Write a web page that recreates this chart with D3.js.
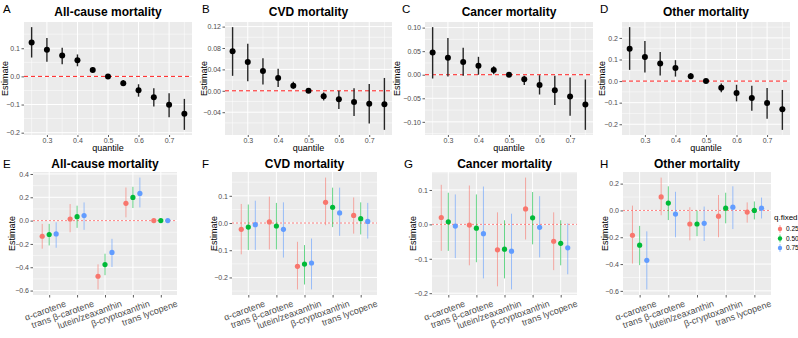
<!DOCTYPE html>
<html>
<head>
<meta charset="utf-8">
<script src="https://cdn.jsdelivr.net/npm/d3@7"></script>
<style>
body { margin: 0; background: #fff; }
svg { font-family: "Liberation Sans", Arial, sans-serif; }
</style>
</head>
<body>
<svg id="fig" width="798" height="338"></svg>
<script>
// quantile panels (top row)
const quantiles = [0.25, 0.30, 0.35, 0.40, 0.45, 0.50, 0.55, 0.60, 0.65, 0.70, 0.75];
const quantTicks = [0.3, 0.4, 0.5, 0.6, 0.7];

const allCauseEst = [0.120, 0.095, 0.074, 0.057, 0.023, 0.0, -0.024, -0.049, -0.074, -0.101, -0.133];
const allCauseLo  = [0.067, 0.052, 0.043, 0.036, 0.016, 0.0, -0.034, -0.072, -0.107, -0.145, -0.190];
const allCauseHi  = [0.175, 0.136, 0.102, 0.078, 0.032, 0.0, -0.013, -0.028, -0.042, -0.060, -0.080];

const cvdEst = [0.074, 0.054, 0.037, 0.024, 0.0094, 0.0, -0.010, -0.016, -0.021, -0.024, -0.025];
const cvdLo  = [0.028, 0.018, 0.012, 0.007, 0.004, 0.0, -0.018, -0.034, -0.047, -0.061, -0.073];
const cvdHi  = [0.119, 0.088, 0.061, 0.041, 0.017, 0.0, -0.003, 0.000, 0.005, 0.0125, 0.024];

const cancerEst = [0.047, 0.036, 0.027, 0.019, 0.010, 0.0, -0.0096, -0.022, -0.033, -0.046, -0.063];
const cancerLo  = [-0.008, -0.004, -0.002, 0.000, 0.001, 0.0, -0.022, -0.042, -0.064, -0.087, -0.117];
const cancerHi  = [0.101, 0.078, 0.057, 0.038, 0.018, 0.0, -0.002, -0.001, -0.002, -0.006, -0.010];

const otherEst = [0.150, 0.112, 0.081, 0.061, 0.023, 0.0, -0.031, -0.055, -0.078, -0.101, -0.131];
const otherLo  = [0.052, 0.040, 0.026, 0.021, 0.011, 0.0, -0.052, -0.094, -0.137, -0.175, -0.226];
const otherHi  = [0.250, 0.186, 0.135, 0.097, 0.037, 0.0, -0.011, -0.017, -0.022, -0.032, -0.041];

// nutrient panels (bottom row), rows = q.fixed 0.25 / 0.50 / 0.75
const nutrients = ['\u03b1-carotene', 'trans \u03b2-carotene', 'lutein/zeaxanthin', '\u03b2-cryptoxanthin', 'trans lycopene'];
const qFixed = ['0.25', '0.50', '0.75'];
const qColors = ['#F8766D', '#00BA38', '#619CFF'];

const nAllEst = [[-0.134, 0.014, -0.477, 0.148, 0.0], [-0.119, 0.034, -0.377, 0.199, 0.0], [-0.114, 0.043, -0.273, 0.233, 0.0]];
const nAllLo  = [[-0.241, -0.100, -0.590, 0.028, -0.004], [-0.213, -0.062, -0.468, 0.108, -0.003], [-0.233, -0.079, -0.398, 0.113, -0.003]];
const nAllHi  = [[-0.028, 0.142, -0.375, 0.284, 0.004], [-0.028, 0.128, -0.284, 0.290, 0.003], [-0.014, 0.156, -0.156, 0.369, 0.003]];

const nCvdEst = [[-0.023, 0.004, -0.159, 0.076, 0.028], [-0.015, -0.011, -0.151, 0.058, 0.016], [-0.006, -0.023, -0.147, 0.037, 0.006]];
const nCvdLo  = [[-0.115, -0.097, -0.244, -0.008, -0.039], [-0.099, -0.097, -0.226, -0.015, -0.042], [-0.099, -0.127, -0.244, -0.047, -0.057]];
const nCvdHi  = [[0.070, 0.097, -0.069, 0.167, 0.094], [0.068, 0.074, -0.081, 0.130, 0.076], [0.082, 0.076, -0.057, 0.130, 0.074]];

const nCanEst = [[0.020, -0.002, -0.074, 0.045, -0.049], [0.0074, -0.011, -0.072, 0.019, -0.055], [-0.005, -0.027, -0.078, -0.0085, -0.068]];
const nCanLo  = [[-0.077, -0.119, -0.180, -0.044, -0.133], [-0.077, -0.110, -0.157, -0.058, -0.119], [-0.098, -0.157, -0.189, -0.096, -0.145]];
const nCanHi  = [[0.115, 0.113, 0.035, 0.136, 0.035], [0.092, 0.087, 0.012, 0.094, 0.012], [0.087, 0.110, 0.031, 0.082, 0.003]];

const nOthEst = [[-0.185, 0.101, -0.101, -0.043, -0.012], [-0.259, 0.055, -0.101, 0.017, 0.0], [-0.372, -0.027, -0.096, 0.024, 0.017]];
const nOthLo  = [[-0.396, -0.036, -0.223, -0.200, -0.091], [-0.408, -0.072, -0.192, -0.096, -0.067], [-0.589, -0.200, -0.228, -0.139, -0.060]];
const nOthHi  = [[0.036, 0.245, 0.024, 0.115, 0.060], [-0.115, 0.180, 0.000, 0.132, 0.067], [-0.156, 0.139, 0.029, 0.180, 0.096]];

const svg = d3.select('#fig');

const panelBg = '#EBEBEB';
const tickCol = '#4D4D4D';

// y domain like ggplot: data range + 5%
const expand = (lo, hi) => {
  const mn = d3.min(lo.flat()), mx = d3.max(hi.flat());
  const p = (mx - mn) * 0.05;
  return [mn - p, mx + p];
};

// minor breaks halfway between majors, inside domain
const minorOf = (ticks, dom) => {
  const step = ticks[1] - ticks[0];
  const out = [];
  for (let t = ticks[0] - step / 2; t <= dom[1] + 1e-9; t += step) {
    if (t >= dom[0] - 1e-9) out.push(t);
  }
  return out;
};

const styleAxis = (g) => {
  g.select('.domain').remove();
  g.selectAll('line').attr('stroke', '#333').attr('stroke-width', 0.8);
  g.selectAll('text').attr('fill', tickCol).attr('font-size', '7px');
};

const yGrid = (g, y, x0, x1, majors, dom) => {
  g.selectAll(null).data(minorOf(majors, dom)).enter().append('line')
    .attr('x1', x0).attr('x2', x1).attr('y1', d => y(d)).attr('y2', d => y(d))
    .attr('stroke', '#fff').attr('stroke-width', 0.5);
  g.selectAll(null).data(majors).enter().append('line')
    .attr('x1', x0).attr('x2', x1).attr('y1', d => y(d)).attr('y2', d => y(d))
    .attr('stroke', '#fff').attr('stroke-width', 1);
};

const quantPanel = (o) => {
  const top = 22, bottom = 135;
  const g = svg.append('g');
  const x = d3.scaleLinear().domain([0.225, 0.775]).range([o.x0, o.x1]);
  const dom = expand(o.lo, o.hi);
  const y = d3.scaleLinear().domain(dom).range([bottom, top]);

  g.append('rect').attr('x', o.x0).attr('y', top)
    .attr('width', o.x1 - o.x0).attr('height', bottom - top).attr('fill', panelBg);

  yGrid(g, y, o.x0, o.x1, o.yTicks, dom);
  // x minor at 0.25, 0.35 ...
  g.selectAll(null).data(quantiles.filter((d, i) => i % 2 === 0)).enter().append('line')
    .attr('y1', top).attr('y2', bottom).attr('x1', d => x(d)).attr('x2', d => x(d))
    .attr('stroke', '#fff').attr('stroke-width', 0.5);
  g.selectAll(null).data(quantTicks).enter().append('line')
    .attr('y1', top).attr('y2', bottom).attr('x1', d => x(d)).attr('x2', d => x(d))
    .attr('stroke', '#fff').attr('stroke-width', 1);

  g.append('line').attr('x1', o.x0).attr('x2', o.x1).attr('y1', y(0)).attr('y2', y(0))
    .attr('stroke', 'red').attr('stroke-width', 0.9).attr('stroke-dasharray', '4,3');

  g.selectAll(null).data(quantiles).enter().append('line')
    .attr('x1', d => x(d)).attr('x2', d => x(d))
    .attr('y1', (d, i) => y(o.lo[i])).attr('y2', (d, i) => y(o.hi[i]))
    .attr('stroke', '#262626').attr('stroke-width', 1.4);
  g.selectAll(null).data(quantiles).enter().append('circle')
    .attr('cx', d => x(d)).attr('cy', (d, i) => y(o.est[i])).attr('r', 3)
    .attr('fill', '#000');

  g.append('g').attr('transform', `translate(${o.x0},0)`)
    .call(d3.axisLeft(y).tickValues(o.yTicks).tickFormat(o.fmt).tickSize(2.5).tickPadding(1.5))
    .call(styleAxis);
  g.append('g').attr('transform', `translate(0,${bottom})`)
    .call(d3.axisBottom(x).tickValues(quantTicks).tickFormat(d3.format('.1f')).tickSize(2).tickPadding(1))
    .call(styleAxis);

  g.append('text').attr('x', (o.x0 + o.x1) / 2).attr('y', 151)
    .attr('text-anchor', 'middle').attr('font-size', '9px').text('quantile');
  g.append('text').attr('transform', `translate(${o.ylabX},${(top + bottom) / 2}) rotate(-90)`)
    .attr('text-anchor', 'middle').attr('font-size', '9px').text('Estimate');
  g.append('text').attr('x', (o.x0 + o.x1) / 2).attr('y', 16)
    .attr('text-anchor', 'middle').attr('font-size', '12px').attr('font-weight', 'bold').text(o.title);
  g.append('text').attr('x', o.tagX).attr('y', 13).attr('font-size', '11.5px').text(o.tag);
};

const nutrientPanel = (o) => {
  const top = 172, bottom = 295;
  const g = svg.append('g');
  const x = d3.scalePoint().domain(nutrients).range([o.x0, o.x1]).padding(0.58);
  const dodge = x.step() * 0.25;
  const dom = expand(o.lo, o.hi);
  const y = d3.scaleLinear().domain(dom).range([bottom, top]);

  g.append('rect').attr('x', o.x0).attr('y', top)
    .attr('width', o.x1 - o.x0).attr('height', bottom - top).attr('fill', panelBg);
  yGrid(g, y, o.x0, o.x1, o.yTicks, dom);
  g.selectAll(null).data(nutrients).enter().append('line')
    .attr('y1', top).attr('y2', bottom).attr('x1', d => x(d)).attr('x2', d => x(d))
    .attr('stroke', '#fff').attr('stroke-width', 1);

  g.append('line').attr('x1', o.x0).attr('x2', o.x1).attr('y1', y(0)).attr('y2', y(0))
    .attr('stroke', 'red').attr('stroke-opacity', 0.55).attr('stroke-width', 0.9)
    .attr('stroke-dasharray', '2,2');

  qFixed.forEach((q, k) => {
    const off = (k - 1) * dodge;
    g.selectAll(null).data(nutrients).enter().append('line')
      .attr('x1', d => x(d) + off).attr('x2', d => x(d) + off)
      .attr('y1', (d, i) => y(o.lo[k][i])).attr('y2', (d, i) => y(o.hi[k][i]))
      .attr('stroke', qColors[k]).attr('stroke-opacity', 0.6).attr('stroke-width', 1);
    g.selectAll(null).data(nutrients).enter().append('circle')
      .attr('cx', d => x(d) + off).attr('cy', (d, i) => y(o.est[k][i])).attr('r', 2.6)
      .attr('fill', qColors[k]);
  });

  g.append('g').attr('transform', `translate(${o.x0},0)`)
    .call(d3.axisLeft(y).tickValues(o.yTicks).tickFormat(d3.format('.1f')).tickSize(2.5).tickPadding(1.5))
    .call(styleAxis);
  const xa = g.append('g').attr('transform', `translate(0,${bottom})`)
    .call(d3.axisBottom(x).tickSize(2.5))
    .call(styleAxis);
  xa.selectAll('text')
    .attr('y', 0).attr('dy', 0).attr('x', 0)
    .attr('text-anchor', 'end').attr('font-size', '9px')
    .attr('transform', 'translate(17,11) rotate(-20)');

  g.append('text').attr('transform', `translate(${o.ylabX},${(top + bottom) / 2}) rotate(-90)`)
    .attr('text-anchor', 'middle').attr('font-size', '9px').text('Estimate');
  g.append('text').attr('x', (o.x0 + o.x1) / 2).attr('y', 168)
    .attr('text-anchor', 'middle').attr('font-size', '12px').attr('font-weight', 'bold').text(o.title);
  g.append('text').attr('x', o.tagX).attr('y', 168).attr('font-size', '11.5px').text(o.tag);
};

quantPanel({ tag: 'A', tagX: 3, title: 'All-cause mortality', x0: 24, x1: 192, ylabX: 8,
  est: allCauseEst, lo: allCauseLo, hi: allCauseHi, yTicks: [-0.2, -0.1, 0, 0.1], fmt: d3.format('.1f') });
quantPanel({ tag: 'B', tagX: 202, title: 'CVD mortality', x0: 225, x1: 392, ylabX: 207,
  est: cvdEst, lo: cvdLo, hi: cvdHi, yTicks: [-0.04, 0, 0.04, 0.08, 0.12], fmt: d3.format('.2f') });
quantPanel({ tag: 'C', tagX: 402, title: 'Cancer mortality', x0: 425, x1: 593, ylabX: 400,
  est: cancerEst, lo: cancerLo, hi: cancerHi, yTicks: [-0.10, -0.05, 0, 0.05, 0.10], fmt: d3.format('.2f') });
quantPanel({ tag: 'D', tagX: 600, title: 'Other mortality', x0: 622, x1: 790, ylabX: 605,
  est: otherEst, lo: otherLo, hi: otherHi, yTicks: [-0.2, -0.1, 0, 0.1, 0.2], fmt: d3.format('.1f') });

nutrientPanel({ tag: 'E', tagX: 3, title: 'All-cause mortality', x0: 33, x1: 177, ylabX: 15,
  est: nAllEst, lo: nAllLo, hi: nAllHi, yTicks: [-0.6, -0.4, -0.2, 0, 0.2, 0.4] });
nutrientPanel({ tag: 'F', tagX: 202, title: 'CVD mortality', x0: 232, x1: 377, ylabX: 217,
  est: nCvdEst, lo: nCvdLo, hi: nCvdHi, yTicks: [-0.2, -0.1, 0, 0.1] });
nutrientPanel({ tag: 'G', tagX: 404, title: 'Cancer mortality', x0: 432, x1: 577, ylabX: 416,
  est: nCanEst, lo: nCanLo, hi: nCanHi, yTicks: [-0.2, -0.1, 0, 0.1] });
nutrientPanel({ tag: 'H', tagX: 600, title: 'Other mortality', x0: 623, x1: 771, ylabX: 608,
  est: nOthEst, lo: nOthLo, hi: nOthHi, yTicks: [-0.6, -0.4, -0.2, 0, 0.2] });

// legend for q.fixed
const leg = svg.append('g').attr('transform', 'translate(774,0)');
leg.append('text').attr('x', 0).attr('y', 220).attr('font-size', '8px').text('q.fixed');
const legY = d3.scalePoint().domain(qFixed).range([229, 248]);
qFixed.forEach((q, k) => {
  leg.append('line').attr('x1', 6).attr('x2', 6).attr('y1', legY(q) - 4).attr('y2', legY(q) + 4)
    .attr('stroke', qColors[k]).attr('stroke-opacity', 0.6);
  leg.append('circle').attr('cx', 6).attr('cy', legY(q)).attr('r', 2.2).attr('fill', qColors[k]);
  leg.append('text').attr('x', 12).attr('y', legY(q) + 2.3).attr('font-size', '6.5px').text(q);
});
</script>
</body>
</html>
